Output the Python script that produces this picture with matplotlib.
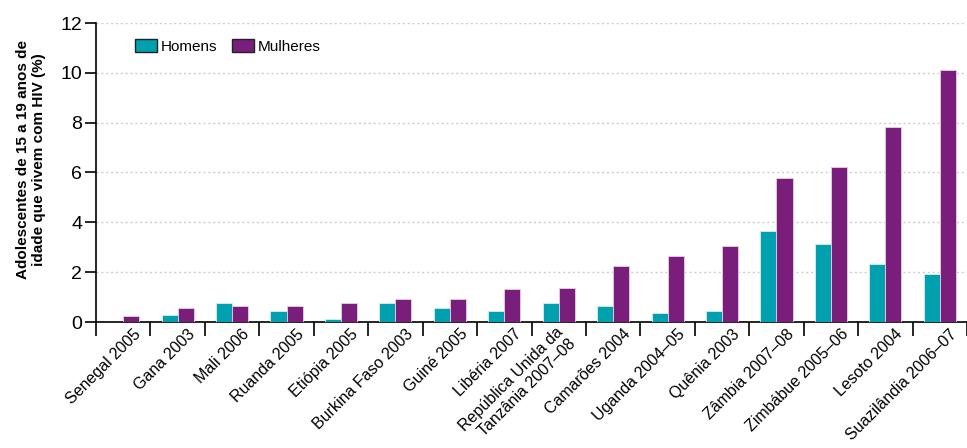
import numpy as np
import matplotlib.pyplot as plt
import matplotlib.transforms as mtransforms

plt.rcParams['font.family'] = ['Liberation Sans', 'DejaVu Sans']

paises = ["Senegal 2005", "Gana 2003", "Mali 2006", "Ruanda 2005", "Etiópia 2005",
          "Burkina Faso 2003", "Guiné 2005", "Libéria 2007",
          "República Unida da\nTanzânia 2007–08", "Camarões 2004", "Uganda 2004–05",
          "Quênia 2003", "Zâmbia 2007–08", "Zimbábue 2005–06", "Lesoto 2004",
          "Suazilândia 2006–07"]
homens = [0.0, 0.28, 0.75, 0.45, 0.14, 0.75, 0.55, 0.45, 0.76, 0.65, 0.36, 0.44, 3.66, 3.15, 2.34, 1.93]
mulheres = [0.25, 0.55, 0.63, 0.63, 0.75, 0.93, 0.94, 1.33, 1.35, 2.23, 2.66, 3.05, 5.76, 6.24, 7.83, 10.1]

cor_h = '#00a0ae'
cor_m = '#7a1e7b'

fig = plt.figure(figsize=(9.67, 4.48), dpi=100)
ax = fig.add_axes([96/967, 1-322/448, 1-96/967, 299/448])

x = np.arange(len(paises))
w = 0.295
ax.bar(x - w/2, homens, w, color=cor_h, edgecolor='#d8eef0', linewidth=0.6, label='Homens', zorder=3)
ax.bar(x + w/2, mulheres, w, color=cor_m, edgecolor='#e6d2e6', linewidth=0.6, label='Mulheres', zorder=3)

ax.set_ylim(0, 12)
ax.set_xlim(-0.5, 15.42)
ax.set_yticks([0, 2, 4, 6, 8, 10, 12])
ax.yaxis.grid(True, linestyle=(0, (1.5, 2)), color='#cccccc', linewidth=1)
ax.set_axisbelow(True)

ax.set_xticks(np.arange(-0.5, 16, 1))
ax.set_xticklabels([])
ax.set_xticks(x, minor=True)
ax.set_xticklabels(paises, minor=True, rotation=45, ha='right', va='center',
                   rotation_mode='anchor', fontsize=11.5)
ax.tick_params(axis='x', which='minor', length=0, pad=7)
ax.tick_params(axis='x', which='major', length=10, width=1.2, direction='out')
ax.tick_params(axis='y', length=8, width=1.2, labelsize=14, pad=2)
for lab in ax.xaxis.get_minorticklabels():
    if "\n" in lab.get_text():
        off = mtransforms.ScaledTranslation(0.08, -0.04, fig.dpi_scale_trans)
    else:
        off = mtransforms.ScaledTranslation(0.15, 0, fig.dpi_scale_trans)
    lab.set_transform(lab.get_transform() + off)

for s in ['top', 'right']:
    ax.spines[s].set_visible(False)
ax.spines['left'].set_linewidth(1.2)
ax.spines['bottom'].set_linewidth(1.2)

ax.set_ylabel("Adolescentes de 15 a 19 anos de\nidade que vivem com HIV (%)",
              fontsize=11, fontweight='bold', linespacing=1.2)
ax.yaxis.set_label_coords(-0.057, 0.542)

leg = ax.legend(loc='upper left', bbox_to_anchor=(0.045, 0.945), ncol=2, frameon=False,
                fontsize=11, handlelength=1.45, handleheight=0.85, handletextpad=0.2,
                columnspacing=1.0, borderpad=0, borderaxespad=0)
for h in leg.legend_handles:
    h.set_edgecolor('#222222')
    h.set_linewidth(1)

fig.savefig('out.png', dpi=100)
